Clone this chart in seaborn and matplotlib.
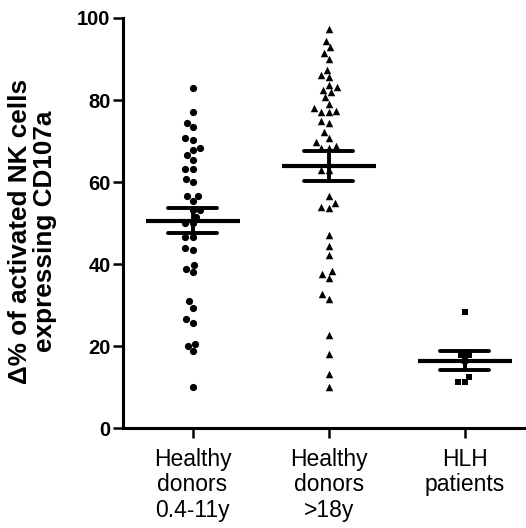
import numpy as np
import pandas as pd
import matplotlib
matplotlib.use("Agg")
import matplotlib.pyplot as plt
import seaborn as sns

categories = ["Healthy\ndonors\n0.4-11y", "Healthy\ndonors\n>18y", "HLH\npatients"]

children = [83.0, 77.0, 74.5, 73.3, 70.8, 70.2, 68.2, 67.9, 66.6, 65.4, 63.2, 63.2,
            60.7, 60.0, 56.7, 56.7, 55.5, 53.1, 53.1, 51.5, 50.0, 50.0, 46.7, 46.7,
            44.0, 43.5, 39.7, 38.8, 38.0, 31.0, 29.4, 26.6, 25.6, 20.6, 20.1, 18.7, 10.1]
adults = [97.3, 94.4, 92.8, 91.5, 90.0, 87.4, 86.1, 85.6, 83.7, 83.1, 82.5, 81.9,
          80.7, 79.1, 78.1, 77.3, 77.0, 77.0, 75.0, 74.4, 72.3, 70.8, 69.7, 68.7,
          68.3, 68.3, 63.0, 63.0, 56.6, 54.9, 53.9, 53.7, 47.0, 44.3, 42.1, 38.2,
          37.5, 36.5, 32.6, 31.6, 22.8, 18.2, 13.2, 10.1]
hlh = [28.3, 17.8, 17.8, 16.5, 12.4, 11.2, 11.2]

y_ticks = [0, 20, 40, 60, 80, 100]
markers = ["o", "^", "s"]
marker_sizes = [5.2, 5.4, 4.8]

groups = [children, adults, hlh]
df = pd.DataFrame({
    "group": np.concatenate([[c] * len(v) for c, v in zip(categories, groups)]),
    "value": np.concatenate(groups),
})

sns.set_style("ticks")
plt.rcParams["font.family"] = ["Liberation Sans", "DejaVu Sans"]

fig = plt.figure(figsize=(5.26, 5.28), dpi=100)
ax = fig.add_axes([0.234, 0.189, 0.766, 0.777])

for cat, mk, ms in zip(categories, markers, marker_sizes):
    sub = df[df["group"] == cat]
    sns.swarmplot(data=sub, x="group", y="value", order=categories, marker=mk,
                  size=ms, color="black", linewidth=0, ax=ax)

sns.pointplot(data=df, x="group", y="value", order=categories, errorbar="se",
              markers="_", markersize=67, markeredgewidth=3.0, color="black",
              linestyle="none", capsize=0.36, err_kws={"linewidth": 2.8}, ax=ax)

ax.set_xlim(-0.51, 2.45)
ax.set_ylim(0, 100)
ax.set_yticks(y_ticks)
ax.set_yticklabels([str(t) for t in y_ticks], fontsize=14.5, fontweight="bold")
ax.set_xticks(range(len(categories)))
ax.set_xticklabels(categories, fontsize=16.5, linespacing=1.15)
ax.set_xlabel("")
ax.set_ylabel("\u0394% of activated NK cells\nexpressing CD107a", fontsize=18.8,
              fontweight="bold", linespacing=1.1, color="black")
ax.yaxis.set_label_coords(-0.163, 0.48)
sns.despine(ax=ax)
for s in ["left", "bottom"]:
    ax.spines[s].set_linewidth(2.2)
    ax.spines[s].set_color("black")
ax.tick_params(axis="both", width=1.8, length=7, color="black", labelcolor="black")
ax.tick_params(axis="x", pad=7)
ax.tick_params(axis="y", pad=2)

fig.savefig("out.png", dpi=100)
